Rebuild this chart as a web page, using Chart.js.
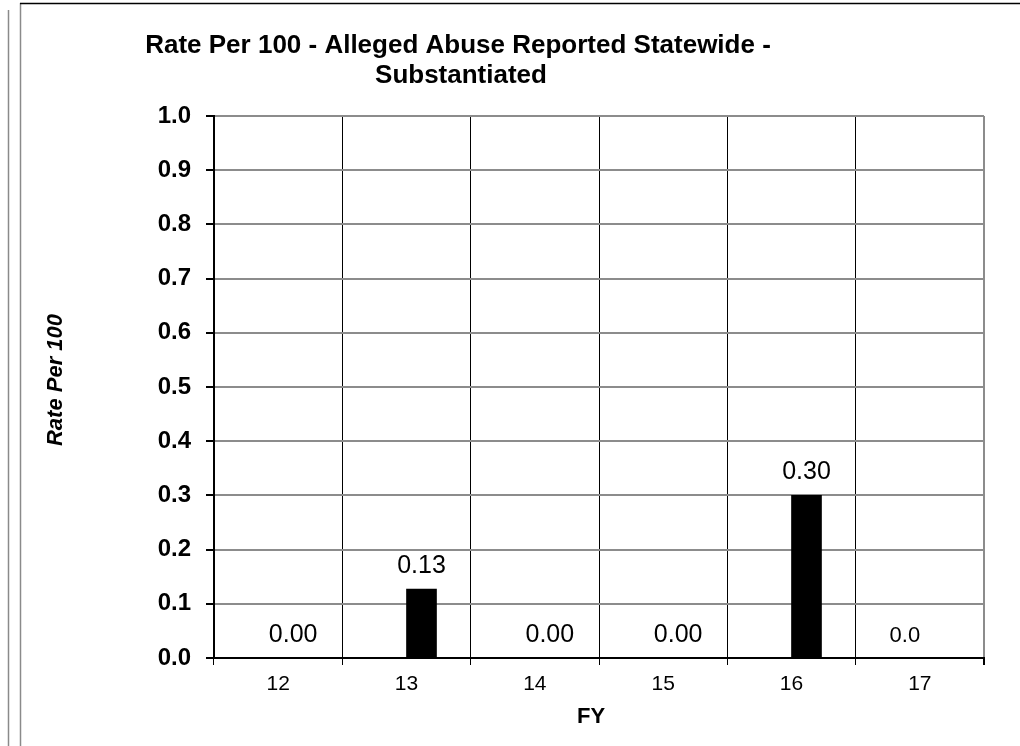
<!DOCTYPE html>
<html>
<head>
<meta charset="utf-8">
<script src="https://cdn.jsdelivr.net/npm/chart.js@4/dist/chart.umd.min.js"></script>
<style>
  html, body { margin: 0; padding: 0; background: #fff; }
  #wrap { width: 1020px; height: 746px; }
</style>
</head>
<body>
<div id="wrap"><canvas id="c" width="1020" height="746"></canvas></div>
<script>
// ---- data ----
const categories = ['12', '13', '14', '15', '16', '17'];
const seriesA = [null, null, null, null, null, 0];       // FY17 series (labelled "0.0")
const seriesB = [0, 0.127, 0, 0, 0.30, null];            // main rate series
const titleLines = ['Rate Per 100 - Alleged Abuse Reported Statewide -', 'Substantiated'];
const yAxisTitle = 'Rate Per 100';
const xAxisTitle = 'FY';

const FONT = '"Liberation Sans", Arial, sans-serif';

const framePlugin = {
  id: 'frame',
  beforeDraw(chart) {
    const ctx = chart.ctx;
    ctx.save();
    ctx.fillStyle = '#fff';
    ctx.fillRect(0, 0, chart.width, chart.height);
    ctx.lineWidth = 1.5;
    ctx.strokeStyle = '#8a8a8a';
    ctx.beginPath();
    ctx.moveTo(8.5, 10); ctx.lineTo(8.5, 746);
    ctx.moveTo(20.5, 3); ctx.lineTo(20.5, 746);
    ctx.stroke();
    ctx.strokeStyle = '#000';
    ctx.beginPath();
    ctx.moveTo(20, 3.5); ctx.lineTo(1020, 3.5);
    ctx.stroke();
    ctx.restore();
  },
  afterDraw(chart) {
    const ctx = chart.ctx;
    ctx.save();
    ctx.fillStyle = '#000';
    // title
    ctx.font = 'bold 26px ' + FONT;
    ctx.textAlign = 'center';
    ctx.textBaseline = 'alphabetic';
    ctx.fillText(titleLines[0], 458, 53);
    ctx.fillText(titleLines[1], 461, 83);
    // x title
    ctx.font = 'bold 22px ' + FONT;
    ctx.fillText(xAxisTitle, 591, 723);
    // y title
    ctx.translate(61.5, 380);
    ctx.rotate(-Math.PI / 2);
    ctx.font = 'italic bold 22px ' + FONT;
    ctx.fillText(yAxisTitle, 0, 0);
    ctx.restore();
  },
  afterDatasetsDraw(chart) {
    const ctx = chart.ctx;
    ctx.save();
    ctx.fillStyle = '#000';
    ctx.textAlign = 'center';
    ctx.textBaseline = 'alphabetic';
    chart.data.datasets.forEach((ds, di) => {
      const meta = chart.getDatasetMeta(di);
      meta.data.forEach((bar, i) => {
        const v = ds.data[i];
        if (v === null || v === undefined) return;
        ctx.font = (di === 0 ? '22px ' : '25px ') + FONT;
        const txt = di === 0 ? v.toFixed(1) : v.toFixed(2);
        ctx.fillText(txt, bar.x, bar.y - 16);
      });
    });
    ctx.restore();
  }
};

new Chart(document.getElementById('c'), {
  type: 'bar',
  data: {
    labels: categories,
    datasets: [
      { label: 'FY17', data: seriesA, backgroundColor: '#000', borderWidth: 0, barThickness: 30 },
      { label: 'Rate Per 100', data: seriesB, backgroundColor: '#000', borderWidth: 0, barThickness: 30 }
    ]
  },
  options: {
    responsive: false,
    animation: false,
    devicePixelRatio: 1,
    layout: { padding: { left: 20, top: 116, right: 36, bottom: 0 } },
    plugins: {
      legend: { display: false },
      title: { display: false },
      tooltip: { enabled: false }
    },
    scales: {
      x: {
        afterFit(scale) { scale.height = 88; },
        grid: {
          offset: true,
          color: (c) => (c.type === 'tick' ? '#000' : '#8c8c8c'),
          lineWidth: (c) => (c.type === 'tick' ? 1 : 2),
          tickColor: '#000',
          tickLength: 7
        },
        border: { display: true, color: '#000', width: 2 },
        ticks: {
          color: '#000',
          font: { family: FONT, size: 21 },
          padding: 7,
          maxRotation: 0
        }
      },
      y: {
        min: 0,
        max: 1,
        afterFit(scale) { scale.width = 194; },
        grid: {
          color: '#8c8c8c',
          lineWidth: 2,
          tickColor: '#000',
          tickLength: 8
        },
        border: { display: true, color: '#000', width: 2 },
        ticks: {
          stepSize: 0.1,
          color: '#000',
          font: { family: FONT, size: 24, weight: 'bold' },
          padding: 15,
          callback: (v) => Number(v).toFixed(1)
        }
      }
    }
  },
  plugins: [framePlugin]
});
</script>
</body>
</html>
